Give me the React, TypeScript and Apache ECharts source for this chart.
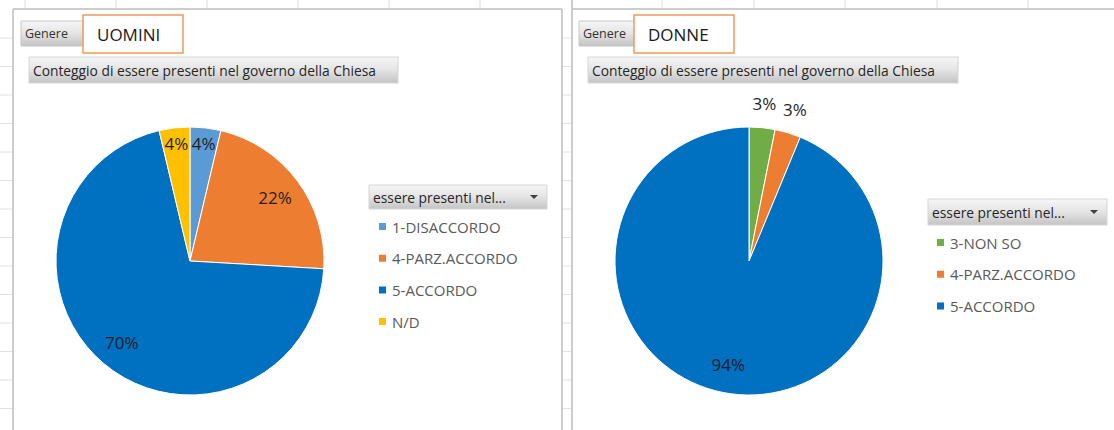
import React, { useEffect, useRef } from "react";
import * as echarts from "echarts";

// ---- data ----
const leftCategories = ["1-DISACCORDO", "4-PARZ.ACCORDO", "5-ACCORDO", "N/D"];
const leftValues = [1, 6, 19, 1];
const rightCategories = ["3-NON SO", "4-PARZ.ACCORDO", "5-ACCORDO"];
const rightValues = [1, 1, 30];
const leftGroupLabel = "UOMINI";
const rightGroupLabel = "DONNE";
const filterLabel = "Genere";
const chartTitle = "Conteggio di essere presenti nel governo della Chiesa";
const legendTitle = "essere presenti nel...";

// ---- styles ----
const FONT = "Open Sans";
const COLORS: Record<string, string> = {
  "1-DISACCORDO": "#5B9BD5",
  "3-NON SO": "#70AD47",
  "4-PARZ.ACCORDO": "#ED7D31",
  "5-ACCORDO": "#0070C0",
  "N/D": "#FFC000",
};
// where each percentage label sits: inner ring, near edge, or outside
const leftLabelRing = ["edge", "inner", "inner", "edge"];
const rightLabelRing = ["outer", "outer", "inner"];

const R = 134;
const RINGS: Record<string, [number, number]> = {
  inner: [72, R],
  edge: [96, R],
  outer: [R, 176],
};

function mainPie(center: [number, number], cats: string[], vals: number[]) {
  return {
    type: "pie",
    center,
    radius: R,
    startAngle: 90,
    clockwise: true,
    silent: true,
    percentPrecision: 0,
    emphasis: { disabled: true },
    itemStyle: { borderColor: "#ffffff", borderWidth: 1 },
    label: { show: false },
    labelLine: { show: false },
    data: cats.map((n, i) => ({ name: n, value: vals[i], itemStyle: { color: COLORS[n] } })),
  };
}

function labelPie(
  center: [number, number],
  cats: string[],
  vals: number[],
  rings: string[],
  ring: string
) {
  return {
    type: "pie",
    center,
    radius: RINGS[ring],
    startAngle: 90,
    clockwise: true,
    silent: true,
    percentPrecision: 0,
    avoidLabelOverlap: false,
    emphasis: { disabled: true },
    itemStyle: { color: "rgba(0,0,0,0)", borderWidth: 0 },
    label: {
      position: "inside",
      formatter: "{d}%",
      color: "#1f1f1f",
      fontSize: 17,
      fontFamily: FONT,
    },
    labelLine: { show: false },
    data: cats.map((n, i) => ({
      name: n,
      value: vals[i],
      label: { show: rings[i] === ring },
    })),
  };
}

function grayGradient() {
  return new echarts.graphic.LinearGradient(0, 0, 0, 1, [
    { offset: 0, color: "#f6f6f6" },
    { offset: 0.5, color: "#e4e4e4" },
    { offset: 1, color: "#c4c4c4" },
  ]);
}

function panelHeader(
  btnX: number,
  btnW: number,
  boxX: number,
  boxW: number,
  groupText: string,
  titleX: number,
  titleW: number
) {
  return [
    {
      type: "rect",
      shape: { x: btnX, y: 21, width: btnW, height: 25 },
      style: { fill: grayGradient(), stroke: "#c8c8c8", lineWidth: 1 },
    },
    {
      type: "text",
      x: btnX + 4,
      y: 33.5,
      style: {
        text: filterLabel,
        fontSize: 12.5,
        fontFamily: FONT,
        fill: "#333333",
        verticalAlign: "middle",
      },
    },
    {
      type: "rect",
      shape: { x: boxX, y: 15, width: boxW, height: 38 },
      style: { fill: "#ffffff", stroke: "#F0995A", lineWidth: 1.5 },
    },
    {
      type: "text",
      x: boxX + 14,
      y: 34,
      style: {
        text: groupText,
        fontSize: 17,
        fontFamily: FONT,
        fill: "#1a1a1a",
        verticalAlign: "middle",
      },
    },
    {
      type: "rect",
      shape: { x: titleX, y: 57, width: titleW, height: 26 },
      style: { fill: grayGradient(), stroke: "#d6d6d6", lineWidth: 1 },
    },
    {
      type: "text",
      x: titleX + 4,
      y: 70,
      style: {
        text: chartTitle,
        fontSize: 13.8,
        fontFamily: FONT,
        fill: "#262626",
        verticalAlign: "middle",
      },
    },
  ];
}

function legendHeader(x: number, y: number, w: number, h: number) {
  const cy = y + h / 2;
  return [
    {
      type: "rect",
      shape: { x, y, width: w, height: h },
      style: { fill: grayGradient(), stroke: "#d6d6d6", lineWidth: 1 },
    },
    {
      type: "text",
      x: x + 4,
      y: cy,
      style: {
        text: legendTitle,
        fontSize: 13.8,
        fontFamily: FONT,
        fill: "#262626",
        verticalAlign: "middle",
      },
    },
    {
      type: "polygon",
      shape: {
        points: [
          [x + w - 17, cy - 2],
          [x + w - 9, cy - 2],
          [x + w - 13, cy + 2],
        ],
      },
      style: { fill: "#404040" },
    },
  ];
}

function gridLines() {
  const els: any[] = [];
  for (let y = 38; y < 430; y += 28.5) {
    els.push({
      type: "line",
      shape: { x1: 0, y1: y, x2: 12, y2: y },
      style: { stroke: "#e0e0e0", lineWidth: 1 },
    });
    els.push({
      type: "line",
      shape: { x1: 563, y1: y, x2: 571, y2: y },
      style: { stroke: "#e0e0e0", lineWidth: 1 },
    });
  }
  [25, 116, 207, 298, 389, 480, 662, 754, 845, 937, 1028].forEach((x) => {
    els.push({
      type: "line",
      shape: { x1: x, y1: 0, x2: x, y2: 9 },
      style: { stroke: "#dcdcdc", lineWidth: 1 },
    });
  });
  const border = { stroke: "#cdcdcd", lineWidth: 2 };
  els.push({ type: "line", shape: { x1: 13, y1: 9, x2: 562, y2: 9 }, style: border });
  els.push({ type: "line", shape: { x1: 13, y1: 9, x2: 13, y2: 430 }, style: border });
  els.push({ type: "line", shape: { x1: 562, y1: 9, x2: 562, y2: 430 }, style: border });
  els.push({ type: "line", shape: { x1: 572, y1: 0, x2: 572, y2: 430 }, style: border });
  els.push({ type: "line", shape: { x1: 572, y1: 9, x2: 1114, y2: 9 }, style: border });
  return els;
}

export default function App() {
  const ref = useRef<HTMLDivElement>(null);

  useEffect(() => {
    if (!ref.current) return;
    const chart = echarts.init(ref.current, undefined, { renderer: "svg" });
    const leftCenter: [number, number] = [190, 261];
    const rightCenter: [number, number] = [749, 261];

    const legendCommon = {
      orient: "vertical",
      icon: "rect",
      itemWidth: 9,
      itemHeight: 9,
      itemGap: 16.7,
      padding: 0,
      selectedMode: false,
      textStyle: { color: "#595959", fontSize: 15, fontFamily: FONT, lineHeight: 15 },
    };

    chart.setOption({
      animation: false,
      backgroundColor: "#ffffff",
      textStyle: { fontFamily: FONT },
      legend: [
        { ...legendCommon, left: 377, top: 219, data: leftCategories },
        { ...legendCommon, left: 935, top: 235, data: rightCategories },
      ],
      graphic: {
        elements: [
          ...gridLines(),
          ...panelHeader(21, 62, 83, 100, leftGroupLabel, 29, 369),
          ...panelHeader(579, 60, 634, 100, rightGroupLabel, 588, 370),
          ...legendHeader(369, 185, 178, 24),
          ...legendHeader(928, 199, 179, 26),
        ],
      },
      series: [
        mainPie(leftCenter, leftCategories, leftValues),
        mainPie(rightCenter, rightCategories, rightValues),
        labelPie(leftCenter, leftCategories, leftValues, leftLabelRing, "inner"),
        labelPie(leftCenter, leftCategories, leftValues, leftLabelRing, "edge"),
        labelPie(rightCenter, rightCategories, rightValues, rightLabelRing, "inner"),
        labelPie(rightCenter, rightCategories, rightValues, rightLabelRing, "outer"),
      ],
    });

    return () => chart.dispose();
  }, []);

  return (
    <div
      ref={ref}
      style={{ position: "absolute", left: 0, top: 0, width: 1114, height: 430 }}
    />
  );
}
